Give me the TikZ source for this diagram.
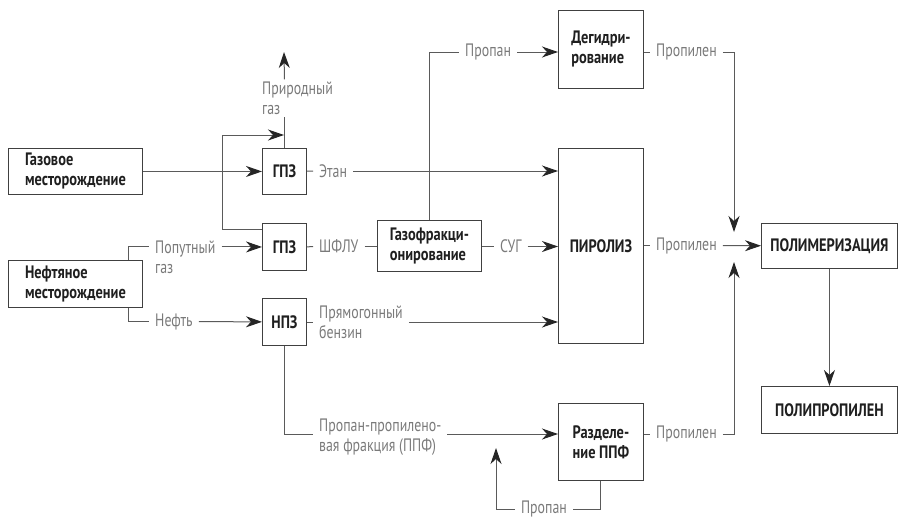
\documentclass[tikz,border=0pt]{standalone}
\usepackage{fontspec}
\setmainfont{PT Sans}[FakeStretch=0.8]
\newfontfamily\lblfont{PT Sans}[FakeStretch=0.77]
\usetikzlibrary{arrows.meta}
\definecolor{lblgray}{HTML}{7A7A7A}
\definecolor{linegray}{HTML}{5A5A5A}
\tikzset{
  box/.style={draw=black!75, line width=0.9pt, font=\fontsize{18}{20}\selectfont\bfseries,
    text=black!88, align=left, anchor=north west, inner sep=0pt},
  lbl/.style={text=lblgray, align=left, inner xsep=6pt, inner ysep=2pt,
    font=\fontsize{18}{20}\lblfont},
  con/.style={draw=linegray, line width=1pt},
  arr/.style={con, -{Stealth[length=16pt, width=11pt, inset=5pt, black!85]}}
}
\begin{document}
\begin{tikzpicture}[x=1pt, y=-1pt]
\useasboundingbox (0,0) rectangle (899,520);
\node[box, minimum width=134pt, minimum height=46pt] (gas) at (8,148) {Газовое\\месторождение};
\node[box, minimum width=134pt, minimum height=47pt] (oil) at (8,260) {Нефтяное\\месторождение};
\node[box, minimum width=44pt, minimum height=46pt] (gpz1) at (262,148) {ГПЗ};
\node[box, minimum width=44pt, minimum height=47pt] (gpz2) at (262,223) {ГПЗ};
\node[box, minimum width=44pt, minimum height=47pt] (npz) at (262,298) {НПЗ};
\node[box, minimum width=104pt, minimum height=51pt] (gfr) at (377,220) {Газофракци-\\онирование};
\node[box, minimum width=85pt, minimum height=78pt] (deg) at (558,10) {Дегидри-\\рование};
\node[box, minimum width=85pt, minimum height=195pt] (pir) at (558,148) {ПИРОЛИЗ};
\node[box, minimum width=85pt, minimum height=77pt] (ppf) at (558,403) {Разделе-\\ние ППФ};
\node[box, minimum width=136pt, minimum height=45pt] (pol) at (761,223) {ПОЛИМЕРИЗАЦИЯ};
\node[box, minimum width=136pt, minimum height=47pt] (pp) at (761,386) {ПОЛИПРОПИЛЕН};

% gas field
\draw[arr] (gas) -- (gpz1);
\coordinate (j1) at (222,171);
\coordinate (j2) at (284,135);
\draw[arr] (j1) |- (j2);
\draw[con] (j1) |- ([yshift=-6pt]gpz2.north west);
\node[lbl, anchor=west] (ngl) at (256,98) {Природный\\газ};
\coordinate (ngo) at (284,52);
\draw[con] (gpz1.north) -- (gpz1.north |- ngl.south);
\draw[arr] (gpz1.north |- ngl.north) -- (ngo);

% oil field
\node[lbl, anchor=west] (pgl) at (149,257) {Попутный\\газ};
\draw[con] ([xshift=-14pt]oil.north east) |- (pgl.west |- gpz2);
\draw[arr] (pgl.east |- gpz2) -- (gpz2);
\node[lbl, anchor=west] (nfl) at (149,321.5) {Нефть};
\draw[con] ([xshift=-14pt]oil.south east) |- (nfl);
\draw[arr] (nfl) -- (npz);

% plants
\node[lbl, anchor=west] (etl) at (313,171) {Этан};
\draw[con] (gpz1) -- (etl);
\draw[arr] (etl) -- (pir.west |- etl);
\node[lbl, anchor=west] (shl) at (313,246.5) {ШФЛУ};
\draw[con] (gpz2) -- (shl);
\draw[con] (shl) -- (gfr.west |- shl);
\node[lbl, anchor=west] (sugl) at (494,246.5) {СУГ};
\draw[con] (gfr.east |- sugl) -- (sugl);
\draw[arr] (sugl) -- (pir.west |- sugl);
\node[lbl, anchor=west] (prl) at (459,52) {Пропан};
\draw[con] (gfr.north) |- (prl);
\draw[arr] (prl) -- (deg.west |- prl);
\node[lbl, anchor=west] (bzl) at (313,322) {Прямогонный\\бензин};
\draw[con] (npz.east |- bzl) -- (bzl);
\draw[arr] (bzl) -- (pir.west |- bzl);
\coordinate (rppf) at (0,434);
\node[lbl, anchor=west] (ppfl) at (313,437) {Пропан-пропилено-\\вая фракция (ППФ)};
\draw[con] (npz.south) |- (ppfl.west |- rppf);
\draw[arr] (ppfl.east |- rppf) -- (ppf.west |- rppf);
\node[lbl] (rpl) at (544,509) {Пропан};
\coordinate (rpt) at (496,448);
\draw[con] (ppf.south) |- (rpl);
\draw[arr] (rpl) -| (rpt);

% propylene
\node[lbl, anchor=west] (pl1) at (650,52) {Пропилен};
\coordinate (jp1) at (734,232);
\draw[con] (deg.east |- pl1) -- (pl1);
\draw[arr] (pl1) -| (jp1);
\node[lbl, anchor=west] (pl2) at (650,245.5) {Пропилен};
\draw[con] (pir.east |- pl2) -- (pl2);
\draw[arr] (pl2) -- (pol);
\node[lbl, anchor=west] (pl3) at (650,434) {Пропилен};
\coordinate (jp3) at (734,262);
\draw[con] (ppf.east |- pl3) -- (pl3);
\draw[arr] (pl3) -| (jp3);
\draw[arr] (pol) -- (pp);
\end{tikzpicture}
\end{document}
